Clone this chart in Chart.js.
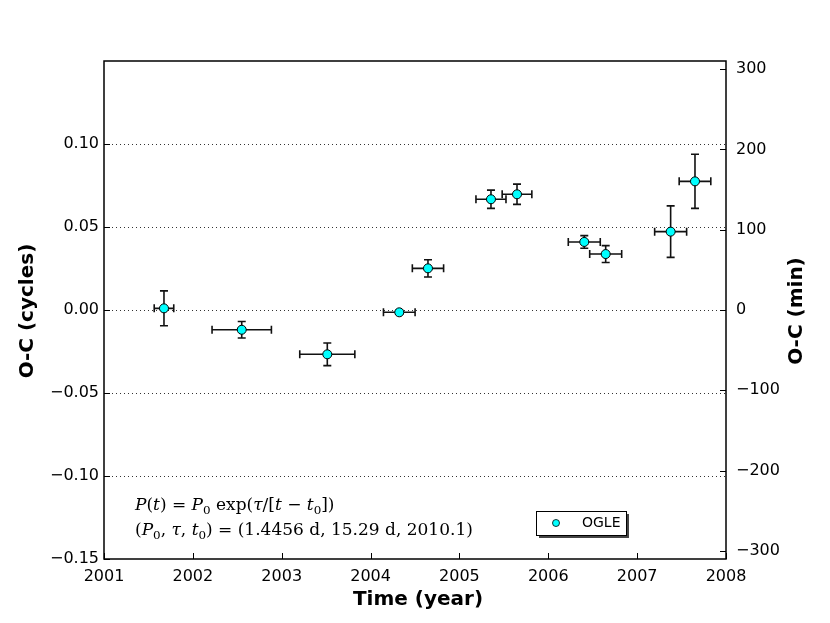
<!DOCTYPE html>
<html><head><meta charset="utf-8">
<script src="https://cdn.jsdelivr.net/npm/chart.js@4.4.0/dist/chart.umd.min.js"></script>
<style>html,body{margin:0;padding:0;background:#fff}canvas{display:block}</style>
</head><body>
<canvas id="c" width="830" height="623"></canvas>
<script>
const years = [2001.675, 2002.55, 2003.513, 2004.323, 2004.646, 2005.355, 2005.648, 2006.405, 2006.646, 2007.377, 2007.651];
const ocCycles = [0.001, -0.0119, -0.0267, -0.0014, 0.0251, 0.0667, 0.0697, 0.041, 0.0337, 0.0472, 0.0775];
const yErr = [0.0105, 0.005, 0.0068, 0.0012, 0.0052, 0.0055, 0.0061, 0.0038, 0.0051, 0.0155, 0.0163];
const xErr = [0.11, 0.334, 0.31, 0.178, 0.176, 0.169, 0.167, 0.18, 0.18, 0.18, 0.178];
const xTicks = [2001, 2002, 2003, 2004, 2005, 2006, 2007, 2008];
const yTicks = [-0.15, -0.10, -0.05, 0.00, 0.05, 0.10];
const yGrid = [-0.10, -0.05, 0.00, 0.05, 0.10];
const minTicks = [-300, -200, -100, 0, 100, 200, 300];
const seriesName = 'OGLE';

const minus = s => s.replace('-', '\u2212');
const TICKFONT = {family: 'DejaVu Sans', size: 16};

const framePlugin = {
  id: 'frame',
  beforeDatasetsDraw(chart) {
    const {ctx, chartArea: a, scales} = chart;
    const x = scales.x, y = scales.y;
    ctx.save();
    ctx.strokeStyle = '#333';
    ctx.lineWidth = 1;
    ctx.setLineDash([1, 3]);
    yGrid.forEach(v => {
      const py = Math.round(y.getPixelForValue(v)) + 0.5;
      ctx.beginPath(); ctx.moveTo(a.left, py); ctx.lineTo(a.right, py); ctx.stroke();
    });
    ctx.setLineDash([]);
    ctx.strokeStyle = '#111';
    ctx.lineWidth = 1.6;
    const cap = 4;
    years.forEach((t, i) => {
      const px = x.getPixelForValue(t), py = y.getPixelForValue(ocCycles[i]);
      const x0 = x.getPixelForValue(t - xErr[i]), x1 = x.getPixelForValue(t + xErr[i]);
      const y0 = y.getPixelForValue(ocCycles[i] - yErr[i]), y1 = y.getPixelForValue(ocCycles[i] + yErr[i]);
      ctx.beginPath();
      ctx.moveTo(x0, py); ctx.lineTo(x1, py);
      ctx.moveTo(x0, py - cap); ctx.lineTo(x0, py + cap);
      ctx.moveTo(x1, py - cap); ctx.lineTo(x1, py + cap);
      ctx.moveTo(px, y0); ctx.lineTo(px, y1);
      ctx.moveTo(px - cap, y0); ctx.lineTo(px + cap, y0);
      ctx.moveTo(px - cap, y1); ctx.lineTo(px + cap, y1);
      ctx.stroke();
    });
    ctx.restore();
  },
  afterDraw(chart) {
    const {ctx, chartArea: a, scales} = chart;
    const x = scales.x, y = scales.y, y2 = scales.y2;
    ctx.save();
    ctx.strokeStyle = '#000';
    ctx.lineWidth = 1;
    const tl = 6;
    yTicks.forEach(v => {
      const py = Math.round(y.getPixelForValue(v)) + 0.5;
      ctx.beginPath(); ctx.moveTo(a.left, py); ctx.lineTo(a.left + tl, py); ctx.stroke();
    });
    minTicks.forEach(v => {
      const py = Math.round(y2.getPixelForValue(v)) + 0.5;
      ctx.beginPath(); ctx.moveTo(a.right, py); ctx.lineTo(a.right - tl, py); ctx.stroke();
    });
    xTicks.forEach(v => {
      const px = Math.round(x.getPixelForValue(v)) + 0.5;
      ctx.beginPath(); ctx.moveTo(px, a.bottom); ctx.lineTo(px, a.bottom - tl); ctx.stroke();
    });
    ctx.lineWidth = 1.5;
    ctx.strokeRect(a.left, a.top, a.right - a.left, a.bottom - a.top);
    ctx.fillStyle = '#000';
    ctx.font = 'bold 20px "DejaVu Sans"';
    ctx.textAlign = 'center';
    ctx.textBaseline = 'middle';
    ctx.fillText('Time (year)', 418, 600);
    ctx.save(); ctx.translate(28, 311); ctx.rotate(-Math.PI / 2); ctx.fillText('O-C (cycles)', 0, 0); ctx.restore();
    ctx.save(); ctx.translate(797, 311); ctx.rotate(-Math.PI / 2); ctx.fillText('O-C (min)', 0, 0); ctx.restore();
    const lx = 536, ly = 511, lw = 90, lh = 24;
    ctx.fillStyle = '#444';
    ctx.fillRect(lx + 3, ly + 3, lw, lh);
    ctx.fillStyle = '#fff';
    ctx.fillRect(lx, ly, lw, lh);
    ctx.strokeStyle = '#000'; ctx.lineWidth = 1;
    ctx.strokeRect(lx + 0.5, ly + 0.5, lw, lh);
    ctx.beginPath(); ctx.arc(lx + 20, ly + 12, 3.5, 0, Math.PI * 2);
    ctx.fillStyle = '#00ffff'; ctx.fill(); ctx.strokeStyle = '#000'; ctx.lineWidth = 0.8; ctx.stroke();
    ctx.fillStyle = '#000'; ctx.font = '14px "DejaVu Sans"'; ctx.textAlign = 'left'; ctx.textBaseline = 'middle';
    ctx.fillText(seriesName, lx + 46, ly + 12.5);
    const drawMath = (segs, x0, base, size) => {
      let cx = x0;
      segs.forEach(s => {
        const style = s[1] || 'r';
        let fs = size, dy = 0;
        if (style === 'sub') { fs = size * 0.7; dy = size * 0.22; }
        ctx.font = (style === 'i' ? 'italic ' : '') + fs + 'px "DejaVu Serif"';
        ctx.textAlign = 'left'; ctx.textBaseline = 'alphabetic';
        ctx.fillText(s[0], cx, base + dy);
        cx += ctx.measureText(s[0]).width;
      });
    };
    ctx.fillStyle = '#000';
    drawMath([['P', 'i'], ['('], ['t', 'i'], [')'], [' = '], ['P', 'i'], ['0', 'sub'], [' exp('], ['\u03c4', 'i'], ['/['], ['t', 'i'], [' \u2212 '], ['t', 'i'], ['0', 'sub'], ['])']], 135, 510, 17);
    drawMath([['('], ['P', 'i'], ['0', 'sub'], [', '], ['\u03c4', 'i'], [', '], ['t', 'i'], ['0', 'sub'], [') = (1.4456 d, 15.29 d, 2010.1)']], 135, 535, 17);
    ctx.restore();
  }
};

new Chart(document.getElementById('c'), {
  type: 'scatter',
  data: {
    datasets: [{
      label: seriesName,
      data: years.map((t, i) => ({x: t, y: ocCycles[i]})),
      backgroundColor: '#00ffff',
      borderColor: '#000',
      borderWidth: 1,
      pointRadius: 4.5,
      yAxisID: 'y'
    }]
  },
  options: {
    responsive: false,
    animation: false,
    devicePixelRatio: 1,
    layout: {padding: {top: 61, left: 0, right: 0, bottom: 0}},
    plugins: {legend: {display: false}, tooltip: {enabled: false}},
    scales: {
      x: {
        type: 'linear', min: 2001, max: 2008,
        grid: {display: false, drawTicks: false}, border: {display: false},
        afterBuildTicks: s => { s.ticks = xTicks.map(v => ({value: v})); },
        afterFit: s => { s.height = 64; },
        ticks: {color: '#000', font: TICKFONT, padding: 8, autoSkip: false, maxRotation: 0, callback: v => String(v)}
      },
      y: {
        type: 'linear', position: 'left', min: -0.15, max: 0.15,
        grid: {display: false, drawTicks: false}, border: {display: false},
        afterBuildTicks: s => { s.ticks = yTicks.map(v => ({value: v})); },
        afterFit: s => { s.width = 104; },
        ticks: {color: '#000', font: TICKFONT, padding: 5, callback: v => minus(v.toFixed(2))}
      },
      y2: {
        type: 'linear', position: 'right', min: -310, max: 310,
        grid: {display: false, drawTicks: false}, border: {display: false},
        afterBuildTicks: s => { s.ticks = minTicks.map(v => ({value: v})); },
        afterFit: s => { s.width = 104; },
        ticks: {color: '#000', font: TICKFONT, padding: 10, callback: v => minus(String(v))}
      }
    }
  },
  plugins: [framePlugin]
});
</script>
</body></html>
